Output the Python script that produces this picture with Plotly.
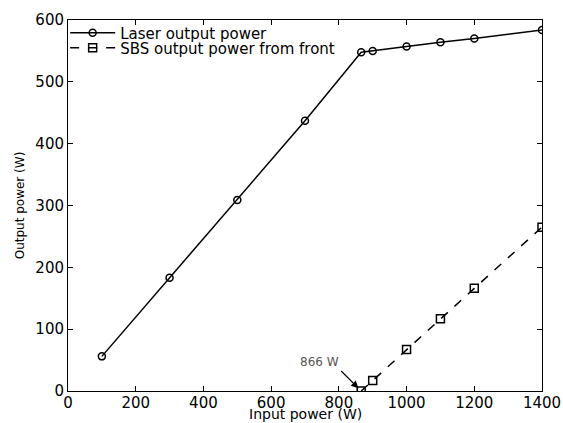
import plotly.graph_objects as go

laser_x = [100, 300, 500, 700, 866, 900, 1000, 1100, 1200, 1400]
laser_y = [56, 183, 309, 437, 548, 550, 557, 564, 570, 584]
sbs_x = [866, 900, 1000, 1100, 1200, 1400]
sbs_y = [0, 17, 67, 117, 166, 265]
x_ticks = [0, 200, 400, 600, 800, 1000, 1200, 1400]
y_ticks = [0, 100, 200, 300, 400, 500, 600]

FONT = "DejaVu Sans"

fig = go.Figure()
fig.add_trace(go.Scatter(
    x=laser_x, y=laser_y, mode="lines+markers", name="Laser output power",
    line=dict(color="black", width=1.5),
    marker=dict(symbol="circle-open", size=7, color="black", line=dict(width=1.5)),
    legend="legend",
))
fig.add_trace(go.Scatter(
    x=sbs_x, y=sbs_y, mode="lines+markers", name="SBS output power from front",
    line=dict(color="black", width=1.5, dash="dash"),
    marker=dict(symbol="square-open", size=8, color="black", line=dict(width=1.5)),
    legend="legend2",
))

fig.add_annotation(
    x=866, y=0, xref="x", yref="y", text="866 W", showarrow=True,
    arrowhead=2, arrowsize=1.2, arrowwidth=1.2, arrowcolor="black",
    ax=-20, ay=-20, standoff=4,
    font=dict(family=FONT, size=12, color="#555555"),
    xanchor="right", yanchor="bottom",
)

# x-axis title placed as text below the tick labels
fig.add_annotation(
    x=0.5, y=-0.0615, xref="paper", yref="paper", text="Input power (W)",
    showarrow=False, xanchor="center", yanchor="middle",
    font=dict(family=FONT, size=14, color="black"),
)

axis_common = dict(
    showgrid=False, zeroline=False, showline=True, linecolor="black", linewidth=1,
    mirror="allticks", ticks="inside", ticklen=5, tickcolor="black",
    tickfont=dict(family=FONT, size=15, color="black"), automargin=False,
)
fig.update_xaxes(range=[0, 1400], tickvals=x_ticks, ticklabelstandoff=-2, **axis_common)
fig.update_yaxes(range=[0, 600], tickvals=y_ticks, **axis_common,
                 title=dict(text="Output power (W)", standoff=8,
                            font=dict(family=FONT, size=12, color="black")))

leg_common = dict(x=-0.006, xanchor="left", yanchor="middle",
                  bgcolor="rgba(0,0,0,0)", borderwidth=0, itemwidth=45,
                  font=dict(family=FONT, size=15, color="black"))
fig.update_layout(
    width=563, height=423,
    margin=dict(l=68, r=21, t=20, b=32),
    plot_bgcolor="white", paper_bgcolor="white",
    showlegend=True,
    legend=dict(y=0.965, **leg_common),
    legend2=dict(y=0.9245, **leg_common),
)

fig.write_html("out.html", config={"displayModeBar": False},
               post_script="document.body.style.margin='0';document.body.style.padding='0';")
